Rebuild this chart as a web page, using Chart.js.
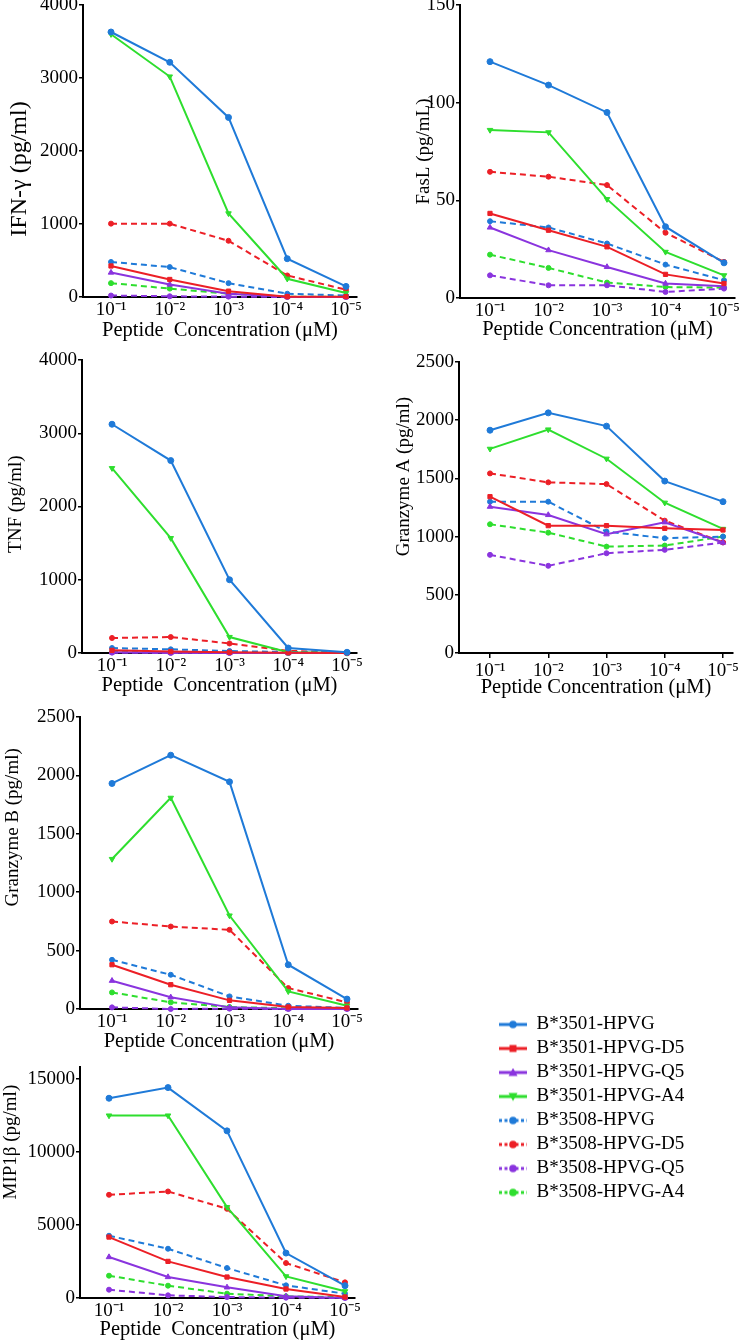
<!DOCTYPE html>
<html>
<head>
<meta charset="utf-8">
<script src="https://cdn.jsdelivr.net/npm/chart.js@4.4.1/dist/chart.umd.min.js"></script>
<style>
html,body{margin:0;padding:0;background:#fff;}
body{width:745px;height:1341px;position:relative;overflow:hidden;}
canvas{position:absolute;}
</style>
</head>
<body>
<script>
// ---------- DATA ----------
const concentrations = ['10\u207B\u00B9', '10\u207B\u00B2', '10\u207B\u00B3', '10\u207B\u2074', '10\u207B\u2075'];
const seriesNames = ['B*3501-HPVG', 'B*3501-HPVG-D5', 'B*3501-HPVG-Q5', 'B*3501-HPVG-A4',
                     'B*3508-HPVG', 'B*3508-HPVG-D5', 'B*3508-HPVG-Q5', 'B*3508-HPVG-A4'];

// IFN-gamma (pg/ml)
const ifn_3501_HPVG = [3630, 3215, 2460, 525, 145];
const ifn_3501_D5   = [425, 240, 80, 5, 5];
const ifn_3501_Q5   = [335, 170, 45, 5, 0];
const ifn_3501_A4   = [3600, 3020, 1145, 250, 55];
const ifn_3508_HPVG = [480, 410, 190, 45, 20];
const ifn_3508_D5   = [1005, 1005, 770, 295, 100];
const ifn_3508_Q5   = [20, 10, 5, 0, 0];
const ifn_3508_A4   = [190, 115, 45, 5, 5];
const ifnTicks = [0, 1000, 2000, 3000, 4000];

// FasL (pg/mL)
const fasl_3501_HPVG = [121, 109, 95, 36.5, 18];
const fasl_3501_D5   = [43.3, 34.7, 26.2, 12.1, 7.4];
const fasl_3501_Q5   = [36.1, 24.5, 15.9, 7.4, 6.0];
const fasl_3501_A4   = [86, 84.8, 50.6, 23.6, 11.6];
const fasl_3508_HPVG = [39.3, 36.1, 27.9, 17.1, 9.1];
const fasl_3508_D5   = [64.6, 62.1, 57.8, 33.4, 18.5];
const fasl_3508_Q5   = [11.6, 6.5, 6.5, 3.1, 4.8];
const fasl_3508_A4   = [22.2, 15.4, 7.9, 5.6, 5.3];
const faslTicks = [0, 50, 100, 150];

// TNF (pg/ml)
const tnf_3501_HPVG = [3123, 2627, 1000, 68, 10];
const tnf_3501_D5   = [36, 20, 10, 5, 0];
const tnf_3501_Q5   = [10, 5, 0, 0, 0];
const tnf_3501_A4   = [2523, 1568, 218, 10, 0];
const tnf_3508_HPVG = [68, 50, 27, 14, 5];
const tnf_3508_D5   = [205, 218, 130, 30, 5];
const tnf_3508_Q5   = [5, 0, 0, 0, 0];
const tnf_3508_A4   = [15, 10, 5, 0, 0];
const tnfTicks = [0, 1000, 2000, 3000, 4000];

// Granzyme A (pg/ml)
const gza_3501_HPVG = [1914, 2063, 1949, 1477, 1300];
const gza_3501_D5   = [1343, 1094, 1094, 1071, 1057];
const gza_3501_Q5   = [1257, 1186, 1020, 1123, 949];
const gza_3501_A4   = [1754, 1920, 1669, 1291, 1066];
const gza_3508_HPVG = [1300, 1300, 1043, 986, 1000];
const gza_3508_D5   = [1543, 1466, 1451, 1137, 951];
const gza_3508_Q5   = [843, 749, 857, 886, 949];
const gza_3508_A4   = [1106, 1034, 914, 923, 1000];
const gzaTicks = [0, 500, 1000, 1500, 2000, 2500];

// Granzyme B (pg/ml)
const gzb_3501_HPVG = [1931, 2173, 1945, 379, 85];
const gzb_3501_D5   = [379, 208, 74, 17, 9];
const gzb_3501_Q5   = [242, 100, 14, 0, 0];
const gzb_3501_A4   = [1284, 1808, 800, 151, 28];
const gzb_3508_HPVG = [421, 293, 108, 28, 9];
const gzb_3508_D5   = [749, 706, 678, 179, 57];
const gzb_3508_Q5   = [14, 0, 3, 0, 0];
const gzb_3508_A4   = [142, 57, 17, 6, 6];
const gzbTicks = [0, 500, 1000, 1500, 2000, 2500];

// MIP1beta (pg/ml)
const mip_3501_HPVG = [13680, 14410, 11446, 3078, 844];
const mip_3501_D5   = [4172, 2508, 1436, 616, 68];
const mip_3501_Q5   = [2804, 1436, 730, 114, 0];
const mip_3501_A4   = [12494, 12494, 6224, 1482, 456];
const mip_3508_HPVG = [4264, 3374, 2052, 866, 296];
const mip_3508_D5   = [7068, 7296, 6110, 2394, 1072];
const mip_3508_Q5   = [570, 182, 68, 23, 0];
const mip_3508_A4   = [1528, 844, 296, 114, 68];
const mipTicks = [0, 5000, 10000, 15000];

// ---------- STYLES ----------
const FAMILY = "'Liberation Serif', 'Times New Roman', serif";
const BLUE = '#1f7ad8', RED = '#ec1f26', PURPLE = '#8a34de', GREEN = '#2ede2e';
const DASH = [6, 4];
const seriesStyles = [
  {color: BLUE,   dash: [],   pointStyle: 'circle',   rotation: 0,   radius: 3},
  {color: RED,    dash: [],   pointStyle: 'rect',     rotation: 0,   radius: 3},
  {color: PURPLE, dash: [],   pointStyle: 'triangle', rotation: 0,   radius: 3.2},
  {color: GREEN,  dash: [],   pointStyle: 'triangle', rotation: 180, radius: 3.2},
  {color: BLUE,   dash: DASH, pointStyle: 'circle',   rotation: 0,   radius: 2.5},
  {color: RED,    dash: DASH, pointStyle: 'circle',   rotation: 0,   radius: 2.5},
  {color: PURPLE, dash: DASH, pointStyle: 'circle',   rotation: 0,   radius: 2.5},
  {color: GREEN,  dash: DASH, pointStyle: 'circle',   rotation: 0,   radius: 2.5}
];
const TICK_SIZE = 19, TITLE_SIZE = 19, XTITLE_SIZE = 20.5, LH = 1.2;

// panel layout (page pixels)
const panels = [
  {canvas: [0, 0, 372, 345], area: {l: 83, t: 5, r: 357, b: 297}, tickFirst: 111, tickLast: 346,
   yTitle: 'IFN-\u03B3 (pg/ml)', yTitleSize: 24, yTitleX: 20, yTitleShift: 19, xTitle: 'Peptide  Concentration (\u03BCM)', xTitleY: 331,
   ticks: ifnTicks, yMax: 4000, xTickMarks: false,
   series: [ifn_3501_HPVG, ifn_3501_D5, ifn_3501_Q5, ifn_3501_A4, ifn_3508_HPVG, ifn_3508_D5, ifn_3508_Q5, ifn_3508_A4]},
  {canvas: [372, 0, 373, 345], area: {l: 460, t: 5, r: 735, b: 298}, tickFirst: 490, tickLast: 724,
   yTitle: 'FasL (pg/mL)', yTitleSize: TITLE_SIZE, yTitleX: 424, yTitleShift: 0, xTitle: 'Peptide Concentration (\u03BCM)', xTitleY: 330,
   ticks: faslTicks, yMax: 150, xTickMarks: false,
   series: [fasl_3501_HPVG, fasl_3501_D5, fasl_3501_Q5, fasl_3501_A4, fasl_3508_HPVG, fasl_3508_D5, fasl_3508_Q5, fasl_3508_A4]},
  {canvas: [0, 345, 372, 355], area: {l: 82, t: 360, r: 357, b: 653}, tickFirst: 112, tickLast: 347,
   yTitle: 'TNF (pg/ml)', yTitleSize: TITLE_SIZE, yTitleX: 16, yTitleShift: -3, xTitle: 'Peptide  Concentration (\u03BCM)', xTitleY: 686,
   ticks: tnfTicks, yMax: 4000, xTickMarks: false,
   series: [tnf_3501_HPVG, tnf_3501_D5, tnf_3501_Q5, tnf_3501_A4, tnf_3508_HPVG, tnf_3508_D5, tnf_3508_Q5, tnf_3508_A4]},
  {canvas: [372, 345, 373, 355], area: {l: 459, t: 362, r: 733, b: 653}, tickFirst: 490, tickLast: 723,
   yTitle: 'Granzyme A (pg/ml)', yTitleSize: TITLE_SIZE, yTitleX: 404, yTitleShift: -32, xTitle: 'Peptide Concentration (\u03BCM)', xTitleY: 688,
   ticks: gzaTicks, yMax: 2500, xTickMarks: true,
   series: [gza_3501_HPVG, gza_3501_D5, gza_3501_Q5, gza_3501_A4, gza_3508_HPVG, gza_3508_D5, gza_3508_Q5, gza_3508_A4]},
  {canvas: [0, 700, 372, 355], area: {l: 80, t: 717, r: 358, b: 1009}, tickFirst: 112, tickLast: 347,
   yTitle: 'Granzyme B (pg/ml)', yTitleSize: TITLE_SIZE, yTitleX: 13, yTitleShift: -35, xTitle: 'Peptide Concentration (\u03BCM)', xTitleY: 1042,
   ticks: gzbTicks, yMax: 2500, xTickMarks: false,
   series: [gzb_3501_HPVG, gzb_3501_D5, gzb_3501_Q5, gzb_3501_A4, gzb_3508_HPVG, gzb_3508_D5, gzb_3508_Q5, gzb_3508_A4]},
  {canvas: [0, 1055, 372, 286], area: {l: 80, t: 1067, r: 355, b: 1298}, tickFirst: 109, tickLast: 345,
   yTitle: 'MIP1\u03B2 (pg/ml)', yTitleSize: TITLE_SIZE, yTitleX: 11, yTitleShift: -40, xTitle: 'Peptide  Concentration (\u03BCM)', xTitleY: 1330,
   ticks: mipTicks, yMax: 15820, xTickMarks: false,
   series: [mip_3501_HPVG, mip_3501_D5, mip_3501_Q5, mip_3501_A4, mip_3508_HPVG, mip_3508_D5, mip_3508_Q5, mip_3508_A4]}
];

const measureCtx = document.createElement('canvas').getContext('2d');
function shiftedTitle(text, shift, size) {
  measureCtx.font = size + 'px ' + FAMILY;
  const sw = measureCtx.measureText(' ').width || size / 4;
  const n = Math.round(Math.abs(shift) * 2 / sw);
  const pad = ' '.repeat(n);
  return shift > 0 ? text + pad : pad + text;
}

function makeCanvas(rect) {
  const cv = document.createElement('canvas');
  cv.width = rect[2]; cv.height = rect[3];
  cv.style.left = rect[0] + 'px'; cv.style.top = rect[1] + 'px';
  cv.style.width = rect[2] + 'px'; cv.style.height = rect[3] + 'px';
  document.body.appendChild(cv);
  return cv;
}

function makePanel(p) {
  const [cx, cy, cw, ch] = p.canvas;
  const cv = makeCanvas(p.canvas);
  const yW = p.area.l - cx, padTop = p.area.t - cy, padRight = cx + cw - p.area.r, xH = cy + ch - p.area.b;
  const spacing = (p.tickLast - p.tickFirst) / 4;
  const xMin = 1 - (p.tickFirst - p.area.l) / spacing;
  const xMax = 5 + (p.area.r - p.tickLast) / spacing;
  const ylh = p.yTitleSize * LH, xlh = XTITLE_SIZE * LH;
  const datasets = p.series.map((vals, i) => {
    const s = seriesStyles[i];
    return {
      label: seriesNames[i],
      data: vals.map((v, j) => ({x: j + 1, y: v})),
      borderColor: s.color, backgroundColor: s.color, borderWidth: 2, borderDash: s.dash,
      pointStyle: s.pointStyle, pointRotation: s.rotation, pointRadius: s.radius,
      pointBackgroundColor: s.color, pointBorderColor: s.color, pointBorderWidth: 1,
      tension: 0, clip: false
    };
  });
  const zeroPad = sc => { sc.paddingLeft = 0; sc.paddingRight = 0; sc.paddingTop = 0; sc.paddingBottom = 0; };
  new Chart(cv, {
    type: 'line',
    data: {datasets},
    options: {
      responsive: false, animation: false, devicePixelRatio: 1,
      layout: {padding: {left: 0, top: padTop, right: padRight, bottom: 0}, autoPadding: false},
      plugins: {legend: {display: false}, tooltip: {enabled: false}},
      scales: {
        x: {
          type: 'linear', position: 'bottom', min: xMin, max: xMax,
          afterBuildTicks: sc => { sc.ticks = concentrations.map((_, i) => ({value: i + 1})); },
          afterFit: sc => { sc.height = xH; zeroPad(sc); },
          ticks: {callback: v => concentrations[Math.round(v) - 1], font: {family: FAMILY, size: TICK_SIZE}, color: '#000',
                  padding: 2, maxRotation: 0, autoSkip: false},
          grid: {drawOnChartArea: false, drawTicks: p.xTickMarks, tickLength: 5, color: '#000', lineWidth: 1.5},
          border: {display: true, color: '#000', width: 2},
          title: {display: true, text: p.xTitle, color: '#000', font: {family: FAMILY, size: XTITLE_SIZE, lineHeight: LH},
                  padding: {top: 0, bottom: cy + ch - p.xTitleY - xlh / 2}}
        },
        y: {
          type: 'linear', position: 'left', min: 0, max: p.yMax,
          afterBuildTicks: sc => { sc.ticks = p.ticks.map(v => ({value: v})); },
          afterFit: sc => { sc.width = yW; zeroPad(sc); },
          ticks: {callback: v => String(v), font: {family: FAMILY, size: TICK_SIZE}, color: '#000', padding: 1},
          grid: {drawOnChartArea: false, drawTicks: true, tickLength: 4, color: '#000', lineWidth: 1.5},
          border: {display: true, color: '#000', width: 2},
          title: {display: true, text: shiftedTitle(p.yTitle, p.yTitleShift, p.yTitleSize), color: '#000',
                  font: {family: FAMILY, size: p.yTitleSize, lineHeight: LH},
                  padding: {top: p.yTitleX - cx - ylh / 2, bottom: 0}}
        }
      }
    }
  });
}

panels.forEach(makePanel);

// ---------- LEGEND ----------
function swatch(s) {
  const c = document.createElement('canvas');
  c.width = 28; c.height = 10;
  const g = c.getContext('2d');
  g.strokeStyle = s.color; g.fillStyle = s.color; g.lineWidth = 3;
  g.setLineDash(s.dash.length ? [3, 2.5] : []);
  g.beginPath(); g.moveTo(0, 5); g.lineTo(28, 5); g.stroke();
  g.setLineDash([]);
  g.beginPath();
  if (s.dash.length || s.pointStyle === 'circle') {
    g.arc(14, 5, 3.8, 0, Math.PI * 2);
  } else if (s.pointStyle === 'rect') {
    g.rect(10.5, 1.5, 7, 7);
  } else if (s.rotation === 0) {
    g.moveTo(14, 0.5); g.lineTo(18.5, 8.5); g.lineTo(9.5, 8.5); g.closePath();
  } else {
    g.moveTo(14, 9.5); g.lineTo(18.5, 1.5); g.lineTo(9.5, 1.5); g.closePath();
  }
  g.fill();
  return c;
}
const swatches = seriesStyles.map(swatch);
const legendCanvas = makeCanvas([494, 1010, 251, 212]);
new Chart(legendCanvas, {
  type: 'line',
  data: {datasets: seriesNames.map((n, i) => ({label: n, data: [], borderColor: seriesStyles[i].color}))},
  options: {
    responsive: false, animation: false, devicePixelRatio: 1,
    layout: {padding: 0},
    scales: {x: {display: false}, y: {display: false}},
    plugins: {
      tooltip: {enabled: false},
      legend: {
        display: true, position: 'left', align: 'start', maxWidth: 250,
        labels: {
          usePointStyle: true, pointStyleWidth: 28, boxHeight: 10, padding: 5,
          color: '#000', font: {family: FAMILY, size: 19},
          generateLabels: () => seriesNames.map((n, i) => ({
            text: n, pointStyle: swatches[i], fillStyle: seriesStyles[i].color,
            strokeStyle: seriesStyles[i].color, lineWidth: 0, hidden: false, datasetIndex: i, fontColor: '#000'
          }))
        }
      }
    }
  }
});
</script>
</body>
</html>
